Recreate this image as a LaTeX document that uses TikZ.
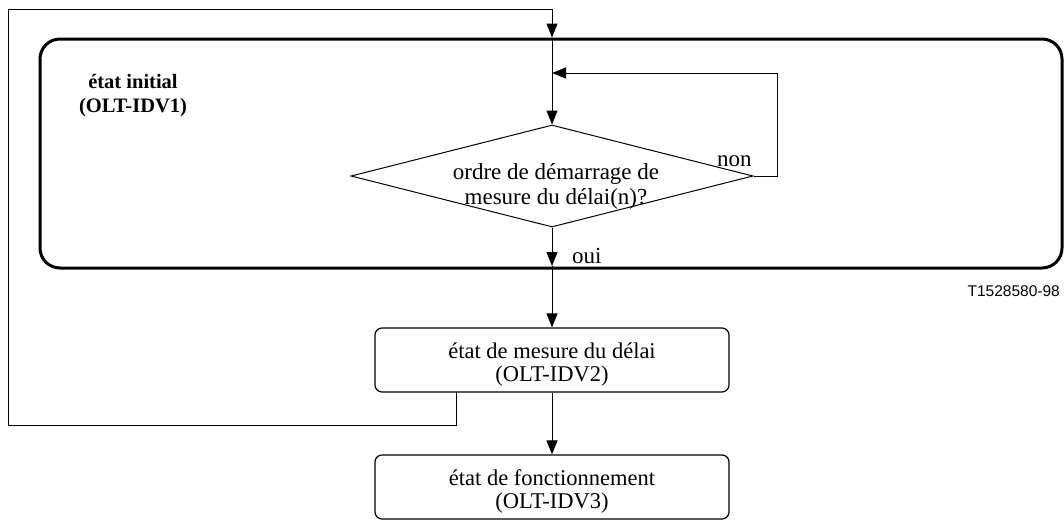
\documentclass[tikz,border=0pt]{standalone}
\usepackage{fontspec}
\setmainfont{Liberation Serif}
\newfontfamily\labelsans{Liberation Sans}
\usetikzlibrary{arrows.meta,shapes.geometric}
\newcommand{\lowered}[1]{\raisebox{-5pt}[\height][\depth]{\begin{tabular}{@{}c@{}}#1\end{tabular}}}
\tikzset{
  arr/.style={line width=1pt,-{Triangle[length=14pt,width=11pt]}},
  statebox/.style={draw,line width=1.2pt,rounded corners=7pt,minimum width=354pt,minimum height=64pt,inner sep=0pt,align=center,font=\fontsize{22.5}{23}\selectfont},
  txt/.style={inner sep=0pt,align=center,font=\fontsize{23}{25}\selectfont},
}
\begin{document}
\begin{tikzpicture}[x=1pt,y=-1pt]
\useasboundingbox (0,0) rectangle (1064,520);
% initial state frame
\node[draw,line width=3pt,rounded corners=20pt,minimum width=1022pt,minimum height=229pt,inner sep=0pt] (init) at (551,153.5) {};
\node[txt,font=\bfseries\fontsize{20.5}{24}\selectfont] (initlbl) at (133,96) {état initial\\(OLT-IDV1)};
% decision
\node[draw,diamond,line width=1pt,minimum width=402pt,minimum height=102pt,inner sep=0pt] (d) at (552,176) {};
\node[txt] (dtxt) at (556,186) {ordre de démarrage de\\mesure du délai(n)?};
\node[txt,anchor=base west] (non) at (717,166) {non};
\node[txt,anchor=base west] (oui) at (572,263) {oui};
% states
\node[statebox] (s2) at (552,360) {\lowered{état de mesure du délai\\(OLT-IDV2)}};
\node[statebox] (s3) at (552,487) {\lowered{état de fonctionnement\\(OLT-IDV3)}};
\node[anchor=base east,inner sep=0pt,font=\labelsans\fontsize{15.5}{17}\selectfont] (ref) at (1060,296) {T1528580-98};
% coordinates
\coordinate (topin) at (552,9);
\coordinate (tl) at (8,9);
\coordinate (bl) at (8,425);
\coordinate (lp) at (456,392);
\coordinate (fb) at (552,73);
\coordinate (ouiend) at (552,266);
% connectors
\draw[arr] (lp) |- (bl) -- (tl) -- (topin) -- (init.north -| topin);
\draw[arr] (init.north -| topin) -- (d.north);
\draw[arr] (d.east) -- ++(24,0) |- (fb);
\draw[arr] (d.south) -- (ouiend);
\draw[arr] (ouiend) -- (s2.north);
\draw[arr] (s2.south) -- (s3.north);
\end{tikzpicture}
\end{document}
